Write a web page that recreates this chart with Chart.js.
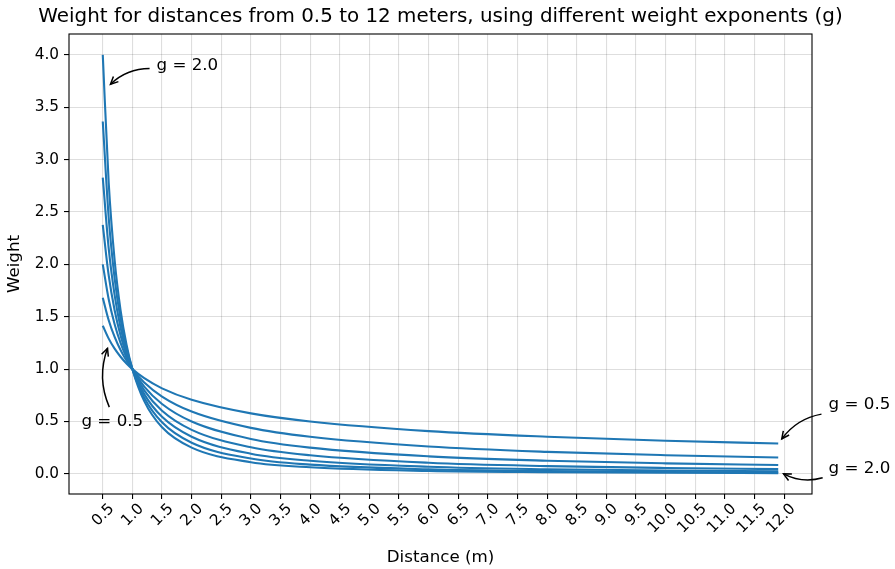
<!DOCTYPE html>
<html>
<head>
<meta charset="utf-8">
<script src="https://cdn.jsdelivr.net/npm/chart.js@4.4.0/dist/chart.umd.min.js"></script>
<style>
  html, body { margin: 0; padding: 0; background: #fff; }
  #wrap { width: 895px; height: 569px; }
</style>
</head>
<body>
<div id="wrap"><canvas id="weightChart" width="895" height="569"></canvas></div>
<script>
/* values */
const distances = [0.5, 0.6, 0.7, 0.8, 0.9, 1.0, 1.2, 1.5, 2, 3, 4, 6, 8, 10, 11.9];
const weightG050 = [1.414, 1.291, 1.195, 1.118, 1.054, 1, 0.913, 0.816, 0.707, 0.577, 0.500, 0.408, 0.354, 0.316, 0.290];
const weightG075 = [1.682, 1.467, 1.307, 1.182, 1.082, 1, 0.872, 0.738, 0.595, 0.439, 0.354, 0.261, 0.210, 0.178, 0.156];
const weightG100 = [2.000, 1.667, 1.429, 1.250, 1.111, 1, 0.833, 0.667, 0.500, 0.333, 0.250, 0.167, 0.125, 0.100, 0.084];
const weightG125 = [2.378, 1.894, 1.562, 1.322, 1.141, 1, 0.796, 0.602, 0.420, 0.253, 0.177, 0.106, 0.074, 0.056, 0.045];
const weightG150 = [2.828, 2.152, 1.707, 1.398, 1.171, 1, 0.761, 0.544, 0.354, 0.192, 0.125, 0.068, 0.044, 0.032, 0.024];
const weightG175 = [3.364, 2.445, 1.867, 1.478, 1.203, 1, 0.727, 0.492, 0.297, 0.146, 0.088, 0.043, 0.026, 0.018, 0.013];
const weightG200 = [4.000, 2.778, 2.041, 1.563, 1.235, 1, 0.694, 0.444, 0.250, 0.111, 0.063, 0.028, 0.016, 0.010, 0.007];
const seriesLabels = ['g = 0.5', 'g = 0.75', 'g = 1.0', 'g = 1.25', 'g = 1.5', 'g = 1.75', 'g = 2.0'];
const xTicks = [0.5, 1.0, 1.5, 2.0, 2.5, 3.0, 3.5, 4.0, 4.5, 5.0, 5.5, 6.0, 6.5, 7.0, 7.5, 8.0, 8.5, 9.0, 9.5, 10.0, 10.5, 11.0, 11.5, 12.0];
const yTicks = [0.0, 0.5, 1.0, 1.5, 2.0, 2.5, 3.0, 3.5, 4.0];
const chartTitle = 'Weight for distances from 0.5 to 12 meters, using different weight exponents (g)';

// annotation text + arrow (data coords)
const notes = [
  { text: 'g = 2.0', tx: 1.407, ty: 3.90, from: [1.29, 3.87], to: [0.63, 3.72], rad: 0.2 },
  { text: 'g = 0.5', tx: 0.14, ty: 0.50, from: [0.61, 0.637], to: [0.58, 1.198], rad: -0.2 },
  { text: 'g = 0.5', tx: 12.75, ty: 0.656, from: [12.63, 0.57], to: [11.96, 0.333], rad: 0.2 },
  { text: 'g = 2.0', tx: 12.75, ty: 0.048, from: [12.65, -0.038], to: [11.99, 0.0], rad: -0.2 }
];

const FONT = "'DejaVu Sans', sans-serif";
const BLUE = '#1f77b4';

const toPoints = ys => distances.map((d, i) => ({ x: d, y: ys[i] }));
const allWeights = [weightG050, weightG075, weightG100, weightG125, weightG150, weightG175, weightG200];

const frameAndNotes = {
  id: 'frameAndNotes',
  afterDatasetsDraw(chart) {
    const { ctx, chartArea: a, scales: { x, y } } = chart;
    ctx.save();
    ctx.strokeStyle = '#000';
    ctx.lineWidth = 1.1;
    ctx.strokeRect(a.left, a.top, a.right - a.left, a.bottom - a.top);

    // title centred over the axes
    ctx.fillStyle = '#000';
    ctx.font = '19.9px ' + FONT;
    ctx.textAlign = 'center';
    ctx.textBaseline = 'middle';
    ctx.fillText(chartTitle, (a.left + a.right) / 2, 17);

    ctx.font = '16.7px ' + FONT;
    ctx.textAlign = 'left';
    notes.forEach(n => {
      ctx.fillText(n.text, x.getPixelForValue(n.tx), y.getPixelForValue(n.ty));
      const x1 = x.getPixelForValue(n.from[0]), y1 = y.getPixelForValue(n.from[1]);
      const x2 = x.getPixelForValue(n.to[0]), y2 = y.getPixelForValue(n.to[1]);
      const dx = x2 - x1, dy = y2 - y1;
      const cx = (x1 + x2) / 2 - n.rad * dy;
      const cy = (y1 + y2) / 2 + n.rad * dx;
      ctx.lineWidth = 1.5;
      ctx.beginPath();
      ctx.moveTo(x1, y1);
      ctx.quadraticCurveTo(cx, cy, x2, y2);
      ctx.stroke();
      // open head
      const ang = Math.atan2(y2 - cy, x2 - cx);
      const hl = 7.5, hw = 3.6;
      ctx.beginPath();
      ctx.moveTo(x2 - hl * Math.cos(ang) - hw * Math.sin(ang), y2 - hl * Math.sin(ang) + hw * Math.cos(ang));
      ctx.lineTo(x2, y2);
      ctx.lineTo(x2 - hl * Math.cos(ang) + hw * Math.sin(ang), y2 - hl * Math.sin(ang) - hw * Math.cos(ang));
      ctx.stroke();
    });
    ctx.restore();
  }
};

new Chart(document.getElementById('weightChart'), {
  type: 'line',
  data: {
    datasets: allWeights.map((ws, i) => ({
      label: seriesLabels[i],
      data: toPoints(ws),
      borderColor: BLUE,
      borderWidth: 2.1,
      pointRadius: 0,
      fill: false,
      cubicInterpolationMode: 'monotone'
    }))
  },
  options: {
    responsive: false,
    animation: false,
    layout: { padding: { left: 0, right: 83, top: 34, bottom: 0 } },
    plugins: {
      legend: { display: false },
      tooltip: { enabled: false },
      title: { display: false }
    },
    scales: {
      x: {
        type: 'linear',
        min: -0.07,
        max: 12.47,
        afterBuildTicks: s => { s.ticks = xTicks.map(v => ({ value: v })); },
        afterFit: s => { s.height = 75; },
        grid: { color: 'rgba(0,0,0,0.13)', lineWidth: 1.1, tickColor: '#000', tickLength: 5 },
        border: { display: false },
        ticks: {
          autoSkip: false,
          minRotation: 45,
          maxRotation: 45,
          labelOffset: 9,
          padding: 1,
          color: '#000',
          font: { family: FONT, size: 15.3 },
          callback: v => v.toFixed(1)
        },
        title: {
          display: true,
          text: 'Distance (m)',
          color: '#000',
          font: { family: FONT, size: 16.7 },
          padding: { top: 0, bottom: 1 }
        }
      },
      y: {
        min: -0.1926,
        max: 4.1996,
        afterBuildTicks: s => { s.ticks = yTicks.map(v => ({ value: v })); },
        afterFit: s => { s.width = 69; },
        grid: { color: 'rgba(0,0,0,0.13)', lineWidth: 1.1, tickColor: '#000', tickLength: 5 },
        border: { display: false },
        ticks: {
          padding: 5,
          color: '#000',
          font: { family: FONT, size: 15.3 },
          callback: v => v.toFixed(1)
        },
        title: {
          display: true,
          text: 'Weight',
          color: '#000',
          font: { family: FONT, size: 16.7 },
          padding: { top: 5, bottom: 0 }
        }
      }
    }
  },
  plugins: [frameAndNotes]
});
</script>
</body>
</html>
